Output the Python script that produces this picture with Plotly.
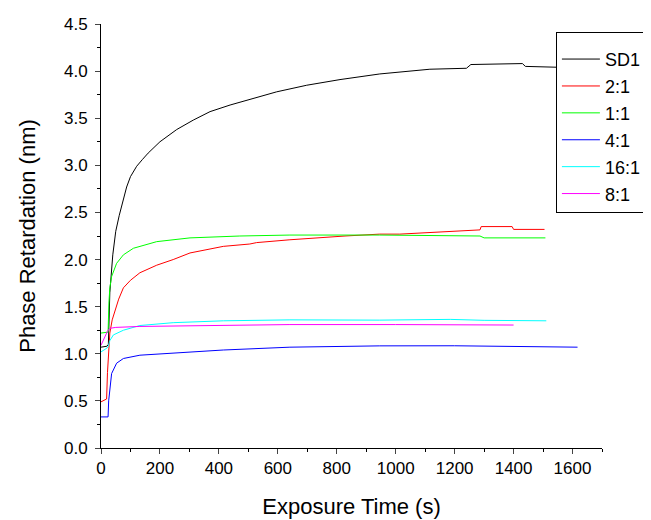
import plotly.graph_objects as go

# readings: exposure time (s) and phase retardation (nm)
sd1_t = [0, 20, 25, 27, 30, 40, 50, 62, 75, 87, 100, 121, 140, 160, 200, 257, 313, 370, 438, 539, 596,
         698, 811, 946, 1116, 1240, 1255, 1430, 1440, 1560, 1700]
sd1_v = [1.07, 1.08, 1.1, 1.4, 1.65, 2.05, 2.3, 2.47, 2.63, 2.77, 2.88, 2.99, 3.06, 3.13, 3.25, 3.38, 3.48,
         3.57, 3.64, 3.73, 3.78, 3.85, 3.91, 3.97, 4.02, 4.03, 4.07, 4.08, 4.05, 4.04, 4.05]

r21_t = [0, 19, 22, 26, 30, 38, 47, 60, 76, 100, 132, 189, 245, 302, 415, 505, 528, 641, 828, 946, 1014,
         1286, 1290, 1395, 1400, 1505]
r21_v = [0.49, 0.52, 0.8, 1.05, 1.22, 1.36, 1.46, 1.58, 1.70, 1.78, 1.86, 1.94, 2.00, 2.07, 2.14, 2.165,
         2.18, 2.21, 2.25, 2.27, 2.27, 2.315, 2.35, 2.35, 2.32, 2.32]

r11_t = [0, 24, 27, 30, 36, 53, 76, 110, 189, 302, 471, 641, 946, 1286, 1300, 1508]
r11_v = [1.22, 1.23, 1.55, 1.70, 1.82, 1.96, 2.05, 2.12, 2.19, 2.23, 2.25, 2.26, 2.26, 2.25, 2.23, 2.23]

r41_t = [0, 24, 26, 30, 36, 53, 76, 132, 245, 415, 641, 946, 1200, 1617]
r41_v = [0.33, 0.33, 0.5, 0.65, 0.79, 0.90, 0.95, 0.985, 1.01, 1.04, 1.07, 1.084, 1.085, 1.07]

r161_t = [0, 20, 25, 30, 42, 76, 132, 245, 415, 641, 946, 1185, 1300, 1511]
r161_v = [1.02, 1.06, 1.08, 1.14, 1.20, 1.25, 1.30, 1.33, 1.35, 1.36, 1.357, 1.365, 1.355, 1.35]

r81_t = [0, 8, 15, 22, 30, 50, 132, 641, 1000, 1400]
r81_v = [1.09, 1.14, 1.2, 1.24, 1.27, 1.28, 1.29, 1.31, 1.31, 1.305]

series = [
    ('SD1', sd1_t, sd1_v, 'black'),
    ('2:1', r21_t, r21_v, '#FF0000'),
    ('1:1', r11_t, r11_v, '#00FF00'),
    ('4:1', r41_t, r41_v, '#0000FF'),
    ('16:1', r161_t, r161_v, '#00FFFF'),
    ('8:1', r81_t, r81_v, '#FF00FF'),
]

fig = go.Figure()
for name, t, v, c in series:
    # trailing nbsp pushes the legend's right border past the visible edge
    fig.add_trace(go.Scatter(x=t, y=v, mode='lines', name=name + '\u00a0\u00a0', legendgroup=name,
                             line=dict(color=c, width=1)))

font = 'Liberation Sans, Arial, sans-serif'
# page body adds an 8px offset, so margins are trimmed on the top/left
fig.update_layout(
    width=651, height=520,
    margin=dict(l=93, r=57, t=16, b=80, autoexpand=False),
    plot_bgcolor='white', paper_bgcolor='white',
    font=dict(family=font, size=17, color='black'),
    legend=dict(x=0.908, y=0.981, xanchor='left', yanchor='top', bgcolor='white',
                bordercolor='black', borderwidth=1, font=dict(size=18), tracegroupgap=0.5,
                itemwidth=38, title=dict(text=' ', font=dict(size=6))),
)
fig.update_xaxes(range=[0, 1700], tick0=0, dtick=200, ticks='outside', ticklen=5, tickwidth=1,
                 showline=True, linecolor='black', linewidth=1, showgrid=False, zeroline=False,
                 minor=dict(dtick=100, ticks='outside', ticklen=3, tickcolor='black'),
                 title=dict(text='Exposure Time (s)', font=dict(size=22), standoff=21))
fig.update_yaxes(range=[0, 4.5], tick0=0, dtick=0.5, tickformat='.1f', ticks='outside', ticklen=5,
                 tickwidth=1, showline=True, linecolor='black', linewidth=1, showgrid=False,
                 zeroline=False, ticklabelstandoff=4,
                 minor=dict(dtick=0.25, ticks='outside', ticklen=3, tickcolor='black'),
                 title=dict(text='Phase Retardation (nm)', font=dict(size=22), standoff=22))

fig.write_html('out.html')
